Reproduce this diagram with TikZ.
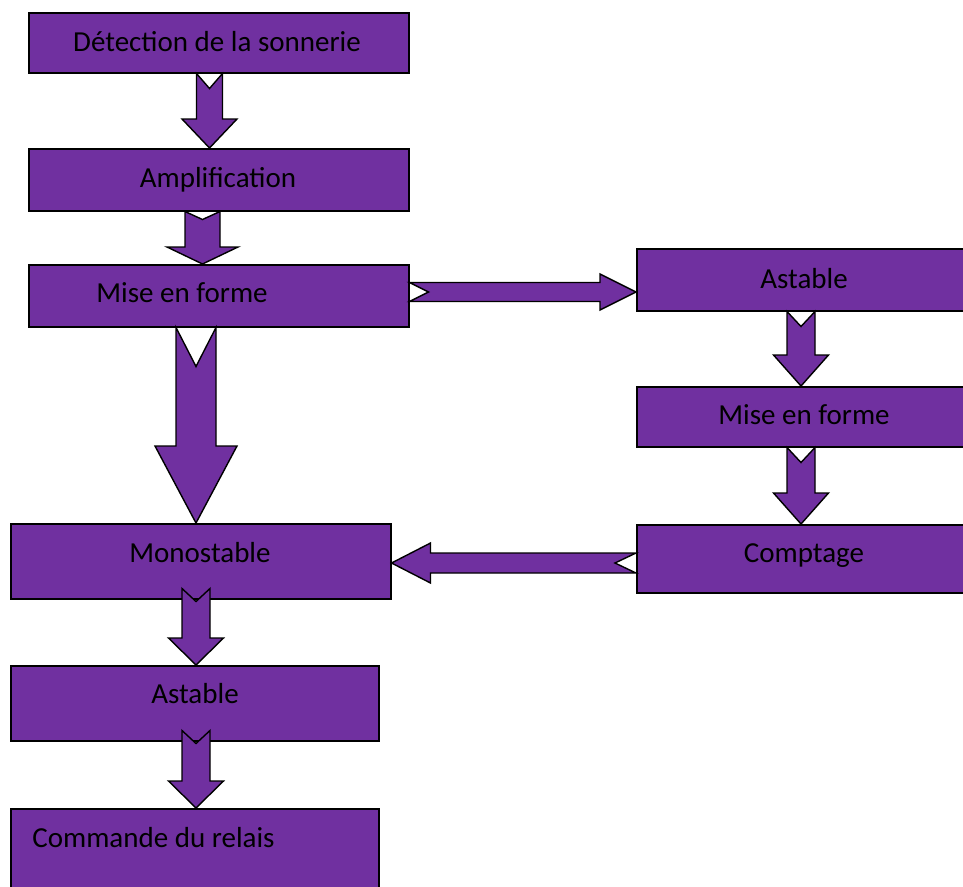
\documentclass[tikz,border=0pt]{standalone}
\usepackage{fontspec}
\setmainfont{Carlito}
\usetikzlibrary{calc}
\definecolor{boxpurple}{HTML}{7030A0}
\tikzset{
  box/.style={rectangle, draw=black, fill=boxpurple, line width=1.5pt, inner sep=0pt, anchor=north west},
  lbl/.style={anchor=base, inner sep=0pt, text=black, font=\fontsize{29}{34}\selectfont},
  arrowshape/.style={draw=black, fill=boxpurple, line width=1.4pt, line join=miter}
}
% #1 from node, #2 to node, #3 x centre, #4 shaft half width, #5 head half width,
% #6 start offset (upwards), #7 notch depth, #8 head length
\newcommand\dnarrow[8]{%
  \path[arrowshape] let \p1=(#1.south), \p2=(#2.north) in
    (#3pt-#4pt, \y1+#6pt) -- (#3pt, \y1+#6pt-#7pt) -- (#3pt+#4pt, \y1+#6pt)
    -- (#3pt+#4pt, \y2+#8pt) -- (#3pt+#5pt, \y2+#8pt) -- (#3pt, \y2)
    -- (#3pt-#5pt, \y2+#8pt) -- (#3pt-#4pt, \y2+#8pt) -- cycle;}
% #1 from node (east), #2 to node (west), #3 y centre (pixel), #4 shaft half, #5 head half, #6 notch, #7 head length
\newcommand\rtarrow[7]{%
  \path[arrowshape] let \p1=(#1.east), \p2=(#2.west) in
    (\x1, -#3pt+#4pt) -- (\x1+#6pt, -#3pt) -- (\x1, -#3pt-#4pt)
    -- (\x2-#7pt, -#3pt-#4pt) -- (\x2-#7pt, -#3pt-#5pt) -- (\x2, -#3pt)
    -- (\x2-#7pt, -#3pt+#5pt) -- (\x2-#7pt, -#3pt+#4pt) -- cycle;}
\newcommand\ltarrow[7]{%
  \path[arrowshape] let \p1=(#1.west), \p2=(#2.east) in
    (\x1, -#3pt+#4pt) -- (\x1-#6pt, -#3pt) -- (\x1, -#3pt-#4pt)
    -- (\x2+#7pt, -#3pt-#4pt) -- (\x2+#7pt, -#3pt-#5pt) -- (\x2, -#3pt)
    -- (\x2+#7pt, -#3pt+#5pt) -- (\x2+#7pt, -#3pt+#4pt) -- cycle;}
\begin{document}
\begin{tikzpicture}[x=1pt,y=-1pt]
\useasboundingbox (0,0) rectangle (963,886);
\clip (0,0) rectangle (963,886);
\fill[white] (0,0) rectangle (963,886);
% boxes
\node[box, minimum width=380pt, minimum height=60pt] (b1) at (28,12) {};
\node[box, minimum width=380pt, minimum height=62pt] (b2) at (28,148) {};
\node[box, minimum width=380pt, minimum height=62pt] (b3) at (28,264) {};
\node[box, minimum width=340pt, minimum height=62pt] (b4) at (636,248) {};
\node[box, minimum width=340pt, minimum height=60pt] (b5) at (636,386) {};
\node[box, minimum width=340pt, minimum height=68pt] (b6) at (636,524) {};
\node[box, minimum width=380pt, minimum height=75pt] (b7) at (10,523) {};
\node[box, minimum width=368pt, minimum height=75pt] (b8) at (10,665) {};
\node[box, minimum width=368pt, minimum height=90pt] (b9) at (10,808) {};
% labels
\node[lbl] (t1) at (217,51) {Détection de la sonnerie};
\node[lbl] (t2) at (218,187) {Amplification};
\node[lbl] (t3) at (182,302) {Mise en forme};
\node[lbl] (t4) at (804,288) {Astable};
\node[lbl] (t5) at (804,424) {Mise en forme};
\node[lbl] (t6) at (804,562) {Comptage};
\node[lbl] (t7) at (200,562) {Monostable};
\node[lbl] (t8) at (195,703) {Astable};
\node[lbl] (t9) at (153.5,847) {Commande du relais};
% arrows
\dnarrow{b1}{b2}{209.5}{13}{27.5}{0}{15}{29}
\dnarrow{b2}{b3}{202.5}{17.5}{35.5}{0}{8}{17}
\dnarrow{b3}{b7}{196}{20}{41}{0}{39}{77}
\dnarrow{b4}{b5}{801}{14}{27.5}{0}{15}{31}
\dnarrow{b5}{b6}{801}{14}{27.5}{0}{15}{31}
\dnarrow{b7}{b8}{196}{14}{27.5}{11}{13}{27}
\dnarrow{b8}{b9}{196}{14}{27.5}{11}{13}{27}
\rtarrow{b3}{b4}{292}{9.5}{18}{19}{36}
\ltarrow{b6}{b7}{563}{10}{20}{21}{39}
\end{tikzpicture}
\end{document}
